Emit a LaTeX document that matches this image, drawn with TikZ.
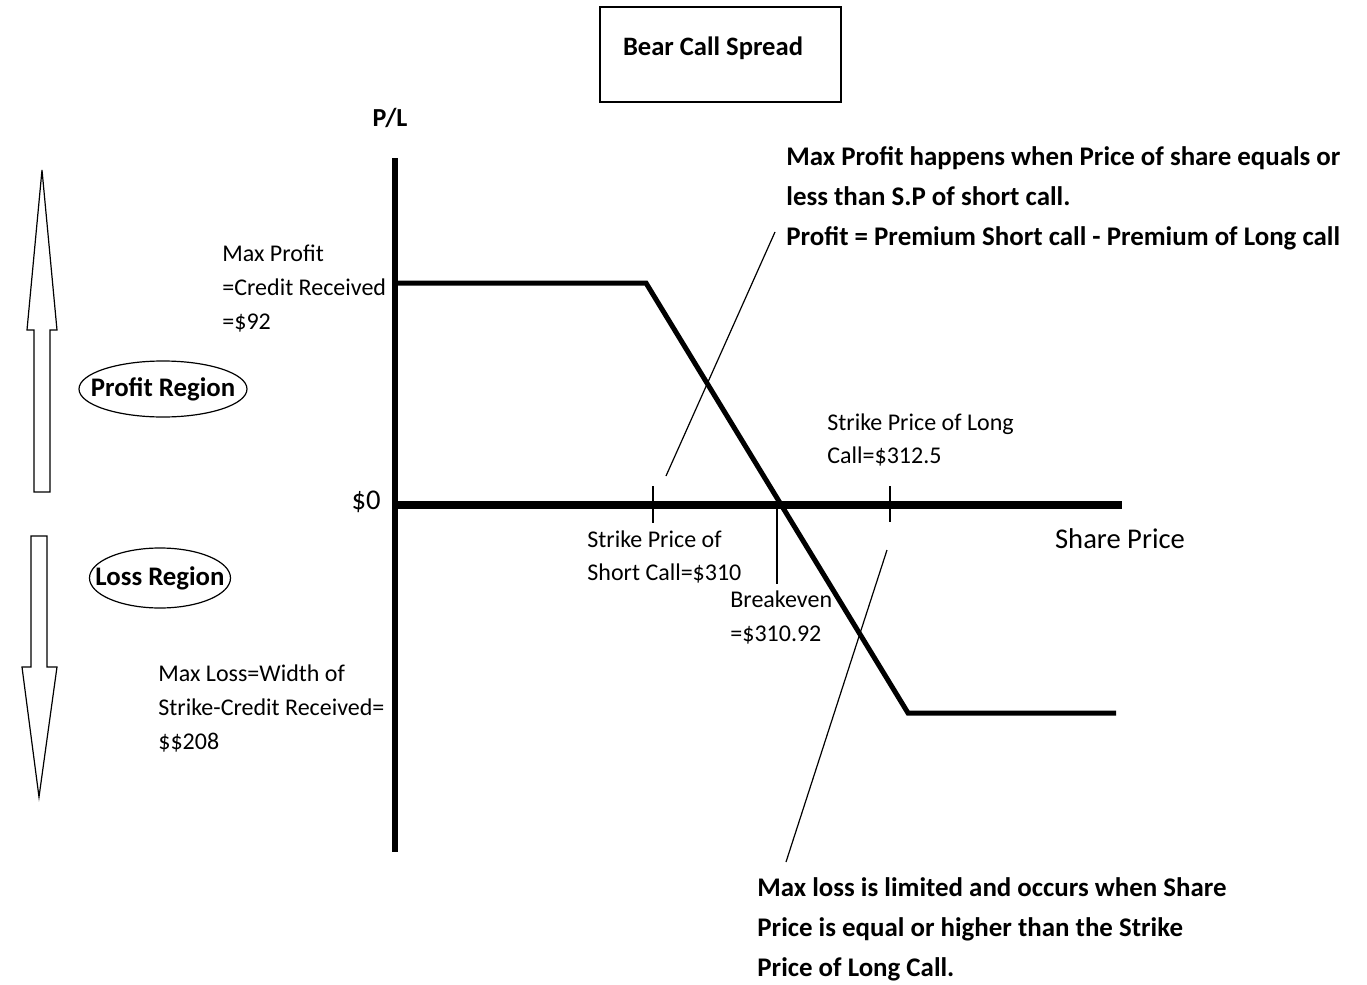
\documentclass[tikz,border=0pt]{standalone}
\usepackage{fontspec}
\setmainfont{Carlito}
\tikzset{
  lbl/.style={anchor=west,align=left,inner sep=0pt,font=\fontsize{12}{17}\selectfont},
  note/.style={anchor=west,align=left,inner sep=0pt,font=\bfseries\fontsize{13.45}{20}\selectfont},
  region/.style={inner sep=0pt,font=\bfseries\fontsize{13.4}{16}\selectfont},
  regionring/.style={draw,semithick},
  blockarrow/.style={draw,semithick,line join=miter},
  leader/.style={draw,semithick},
  tickmark/.style={draw,semithick}
}
\begin{document}
\begin{tikzpicture}[x=0.5pt,y=-0.5pt]
    \useasboundingbox (0,0) rectangle (1367,985);
    % title
    \draw[thick] (600,7) rectangle (841,102);
    \node[font=\bfseries\fontsize{13.3}{16}\selectfont] (title) at (713,48) {Bear Call Spread};
    % axes
    \draw[line width=3pt] (395,158) -- (395,852);
    \draw[line width=4pt] (395,505) -- (1122,505);
    \node[font=\bfseries\fontsize{13}{16}\selectfont] (pl) at (390,118) {P/L};
    \node[font=\fontsize{14.3}{17}\selectfont] (zero) at (366,502) {\$0};
    \node[font=\fontsize{14.3}{17}\selectfont] (share) at (1120,539) {Share Price};
    % payoff
    \coordinate (a) at (395,283);
    \coordinate (k1) at (646,283);
    \coordinate (k2) at (908,713);
    \coordinate (b) at (1116,713);
    \draw[line width=2.5pt,line join=miter] (a) -- (k1) -- (k2) -- (b);
    % strike ticks
    \draw[tickmark] (653,486) -- (653,523);
    \draw[tickmark] (890,486) -- (890,522);
    \draw[tickmark] (777,508) -- (777,584);
    % labels
    \node[lbl] (maxprofit) at (222,289) {Max Profit\\=Credit Received\\=\$92};
    \node[lbl] (longk) at (827,440) {Strike Price of Long\\Call=\$312.5};
    \node[lbl] (shortk) at (587,557) {Strike Price of\\Short Call=\$310};
    \node[lbl] (breakeven) at (730,617) {Breakeven\\=\$310.92};
    \node[lbl] (maxloss) at (158,708) {Max Loss=Width of\\Strike-Credit Received=\\\$\$208};
    \node[note] (profitnote) at (786,198) {Max Profit happens when Price of share equals or\\less than S.P of short call.\\Profit = Premium Short call - Premium of Long call};
    \node[note] (lossnote) at (757,929) {Max loss is limited and occurs when Share\\Price is equal or higher than the Strike\\Price of Long Call.};
    % leaders
    \coordinate (p1) at (666,476);
    \coordinate (p2) at (775,232);
    \coordinate (q1) at (887,550);
    \coordinate (q2) at (786,862);
    \draw[leader] (p1) -- (p2);
    \draw[leader] (q1) -- (q2);
    % regions
    \node[region] (profitreg) at (163,389) {Profit Region};
    \draw[regionring] (profitreg.center) ellipse [x radius=42pt, y radius=14pt];
    \node[region] (lossreg) at (160,578) {Loss Region};
    \draw[regionring] (lossreg.center) ellipse [x radius=35.25pt, y radius=15pt];
    \draw[blockarrow] (34,492) -- (34,330) -- (27,330) -- (42,170) -- (57,330) -- (50,330) -- (50,492) -- cycle;
    \draw[blockarrow] (31,536) -- (47,536) -- (47,667) -- (57,667) -- (39,797) -- (22,667) -- (31,667) -- cycle;
\end{tikzpicture}
\end{document}
